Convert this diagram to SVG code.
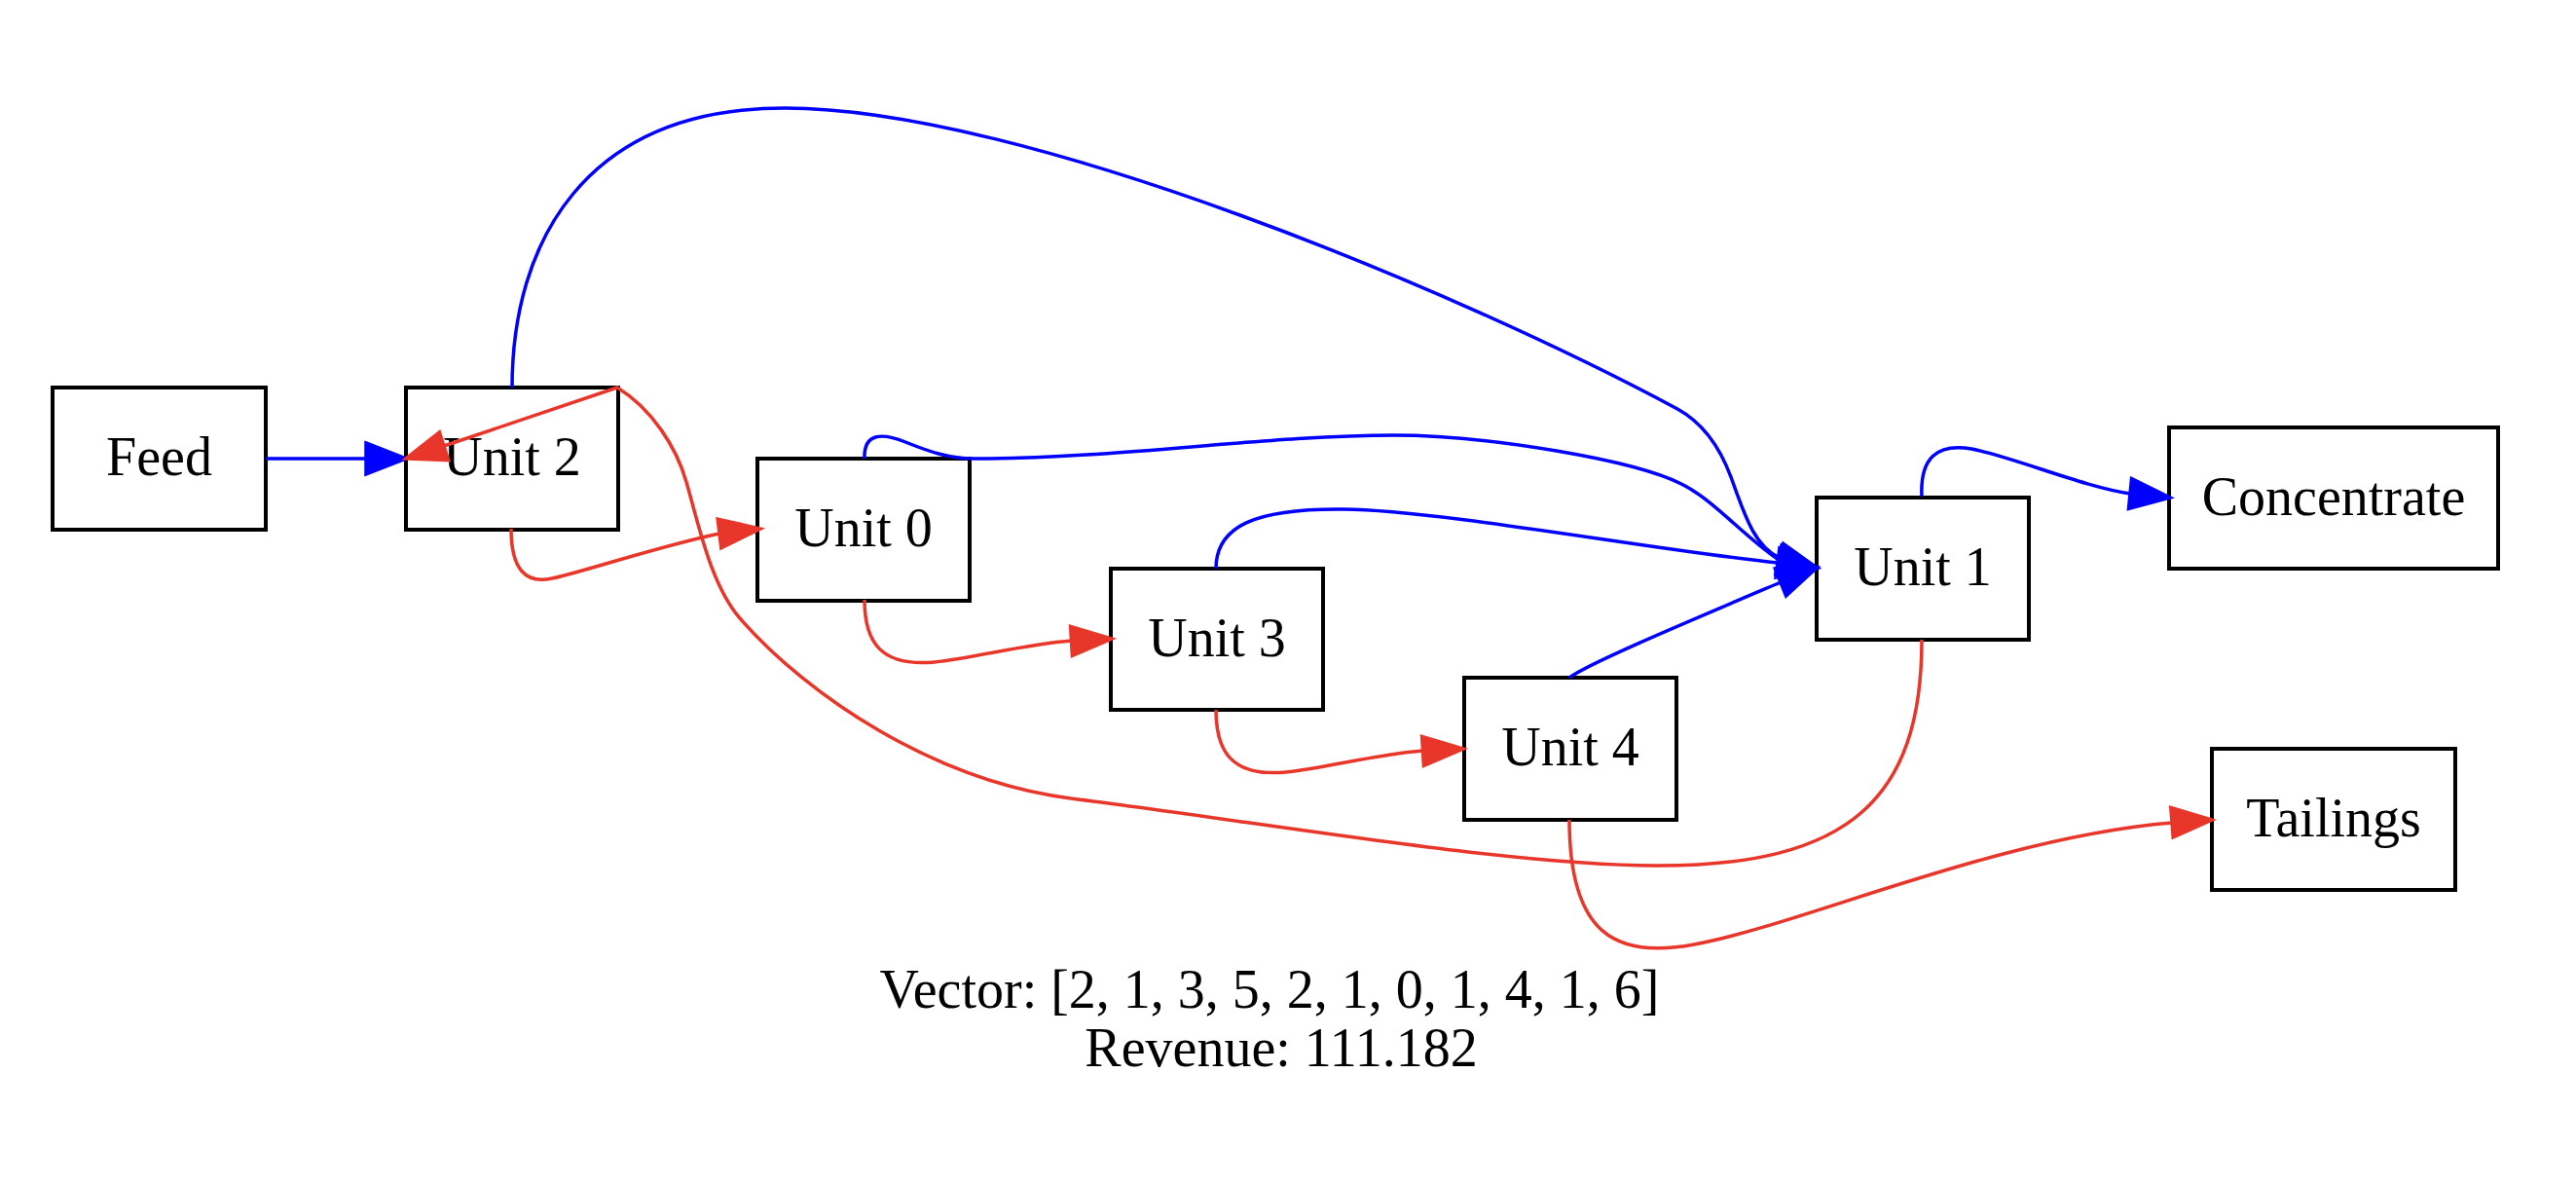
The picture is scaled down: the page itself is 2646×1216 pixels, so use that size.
<svg xmlns="http://www.w3.org/2000/svg" width="2646" height="1216" viewBox="0 0 2646 1216">
<style>
  .node rect { fill: #ffffff; stroke: #000000; stroke-width: 4; }
  .node text, .caption { font-family: "Liberation Serif", "Times New Roman", serif; font-size: 56px; fill: #000000; text-anchor: middle; }
  .edge path { fill: none; stroke-width: 3.5; }
  .blue path { stroke: #0000ff; }
  .blue polygon { fill: #0000ff; stroke: #0000ff; stroke-width: 3.5; stroke-linejoin: miter; }
  .red path { stroke: #e8362a; }
  .red polygon { fill: #e8362a; stroke: #e8362a; stroke-width: 3.5; stroke-linejoin: miter; }
</style>
<rect x="0" y="0" width="2646" height="1216" fill="#ffffff"/>
<g id="nodes">
  <g id="node-feed" class="node"><rect x="54" y="398" width="219" height="146"/><text x="163.5" y="488">Feed</text></g>
  <g id="node-unit2" class="node"><rect x="417" y="398" width="218" height="146"/><text x="526" y="488">Unit 2</text></g>
  <g id="node-unit0" class="node"><rect x="778" y="471" width="218" height="146"/><text x="887" y="561">Unit 0</text></g>
  <g id="node-unit3" class="node"><rect x="1141" y="584" width="218" height="145"/><text x="1250" y="673.5">Unit 3</text></g>
  <g id="node-unit4" class="node"><rect x="1504" y="696" width="218" height="146"/><text x="1613" y="786">Unit 4</text></g>
  <g id="node-unit1" class="node"><rect x="1866" y="511" width="218" height="146"/><text x="1975" y="601">Unit 1</text></g>
  <g id="node-concentrate" class="node"><rect x="2228" y="439" width="338" height="145"/><text x="2397" y="528.5">Concentrate</text></g>
  <g id="node-tailings" class="node"><rect x="2272" y="769" width="250" height="145"/><text x="2397" y="858.5">Tailings</text></g>
</g>
<g id="connectors">
  <g id="edge-feed-unit2" class="edge blue">
    <path d="M273,471 L376,471"/>
    <polygon points="376,455 417,471 376,487"/>
  </g>
  <g id="edge-unit2-unit1" class="edge blue">
    <path d="M526,398 C526,250 600,111 806,111 C1050,111 1500,300 1723,420 C1745,432 1765,455 1778,490 C1790,522 1800,560 1828,573"/>
    <polygon points="1831.8,558.5 1866,583 1824.2,587.5"/>
  </g>
  <g id="edge-unit0-unit1" class="edge blue">
    <path d="M888,471 C887,445 905,444 930,454 C955,464 975,471 1000,471 C1150,471 1300,447 1432,447 C1530,447 1680,473 1727,497 C1760,513 1790,550 1827,575"/>
    <polygon points="1830,560.4 1866,583 1824,589.6"/>
  </g>
  <g id="edge-unit3-unit1" class="edge blue">
    <path d="M1249,584 C1249,540 1290,522 1380,523 C1480,524 1700,565 1826,578"/>
    <polygon points="1827.9,563.1 1866,583 1824.1,592.9"/>
  </g>
  <g id="edge-unit4-unit1" class="edge blue">
    <path d="M1612,696 C1630,682 1730,640 1829,598"/>
    <polygon points="1823.4,584.1 1866,583 1834.6,611.9"/>
  </g>
  <g id="edge-unit1-concentrate" class="edge blue">
    <path d="M1974,510 C1972,470 1990,455 2025,461 C2070,470 2140,500 2188,507"/>
    <polygon points="2189.5,491.6 2229,511 2186.5,522.4"/>
  </g>
  <g id="edge-unit2-unit0" class="edge red">
    <path d="M525,543 C525,585 540,600 567,594 C590,590 680,560 739,548"/>
    <polygon points="737.2,533.1 781,543 740.8,562.9"/>
  </g>
  <g id="edge-unit0-unit3" class="edge red">
    <path d="M888,616 C888,660 905,685 960,680 C1000,676 1050,662 1101,658"/>
    <polygon points="1099.6,643.5 1142,656 1101.4,673.5"/>
  </g>
  <g id="edge-unit3-unit4" class="edge red">
    <path d="M1249,729 C1249,773 1266,798 1321,793 C1361,789 1411,775 1462,771"/>
    <polygon points="1460.6,756.5 1503,769 1462.4,786.5"/>
  </g>
  <g id="edge-unit4-tailings" class="edge red">
    <path d="M1612,842 C1612,960 1660,985 1740,970 C1850,950 2050,860 2231,845"/>
    <polygon points="2229.8,829.5 2272,842 2232.2,860"/>
  </g>
  <g id="edge-unit1-unit2" class="edge red">
    <path d="M1974,657 C1974,820 1900,890 1700,889 C1550,889 1300,845 1100,820 C960,802 830,715 760,635 C730,600 718,540 705,495 C695,460 670,420 634,398 L456,458"/>
    <polygon points="451.4,444 417,471 460.6,472.6"/>
  </g>
</g>
<g id="caption">
  <text class="caption" x="1304" y="1035">Vector: [2, 1, 3, 5, 2, 1, 0, 1, 4, 1, 6]</text>
  <text class="caption" x="1316" y="1095">Revenue: 111.182</text>
</g>
</svg>
